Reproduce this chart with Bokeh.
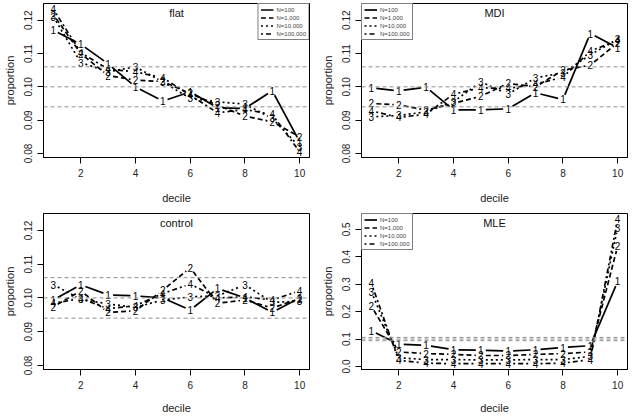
import math
from bokeh.plotting import figure
from bokeh.layouts import row, column
from bokeh.models import (Range1d, FixedTicker, PrintfTickFormatter, Span, Label,
                          Legend, LegendItem, ColumnDataSource)
from bokeh.core.properties import value
from bokeh.embed import file_html
from bokeh.resources import INLINE

# ---------------- data ----------------
decile = [1, 2, 3, 4, 5, 6, 7, 8, 9, 10]
series_labels = ["N=100", "N=1,000", "N=10,000", "N=100,000"]
point_chars = ["1", "2", "3", "4"]
ref_lines = [0.094, 0.100, 0.106]
x_ticks = [2, 4, 6, 8, 10]
y_ticks_small = [0.08, 0.09, 0.10, 0.11, 0.12]
y_ticks_mle = [0.0, 0.1, 0.2, 0.3, 0.4, 0.5]

flat_n100 = [0.1170, 0.1128, 0.1069, 0.1000, 0.0957, 0.0985, 0.0937, 0.0935, 0.0988, 0.0835]
flat_n1000 = [0.1217, 0.1100, 0.1034, 0.1020, 0.1016, 0.0980, 0.0945, 0.0912, 0.0895, 0.0850]
flat_n10000 = [0.1210, 0.1073, 0.1045, 0.1060, 0.1015, 0.0965, 0.0955, 0.0948, 0.0905, 0.0820]
flat_n100000 = [0.1233, 0.1103, 0.1053, 0.1045, 0.1027, 0.0975, 0.0922, 0.0932, 0.0917, 0.0805]

mdi_n100 = [0.0997, 0.0988, 0.0999, 0.0931, 0.0931, 0.0934, 0.0982, 0.0962, 0.1160, 0.1117]
mdi_n1000 = [0.0950, 0.0946, 0.0930, 0.0950, 0.0972, 0.1010, 0.1000, 0.1050, 0.1065, 0.1132]
mdi_n10000 = [0.0910, 0.0914, 0.0925, 0.0955, 0.1015, 0.0978, 0.1027, 0.1042, 0.1096, 0.1143]
mdi_n100000 = [0.0928, 0.0908, 0.0918, 0.0978, 0.0997, 0.0995, 0.1008, 0.1029, 0.1107, 0.1140]

control_n100 = [0.0994, 0.1039, 0.1009, 0.1006, 0.1000, 0.0964, 0.1028, 0.1000, 0.0957, 0.1000]
control_n1000 = [0.0974, 0.1021, 0.0957, 0.0962, 0.1023, 0.1089, 0.0984, 0.0994, 0.0970, 0.0998]
control_n10000 = [0.1039, 0.0996, 0.0982, 0.0972, 0.0994, 0.1003, 0.1006, 0.1039, 0.0987, 0.0990]
control_n100000 = [0.0984, 0.0998, 0.0968, 0.0977, 0.1013, 0.1041, 0.1000, 0.1003, 0.0994, 0.1021]

mle_n100 = [0.130, 0.081, 0.077, 0.061, 0.059, 0.056, 0.061, 0.069, 0.076, 0.310]
mle_n1000 = [0.220, 0.053, 0.047, 0.044, 0.040, 0.040, 0.044, 0.047, 0.053, 0.439]
mle_n10000 = [0.273, 0.032, 0.025, 0.025, 0.024, 0.024, 0.025, 0.025, 0.037, 0.506]
mle_n100000 = [0.304, 0.022, 0.012, 0.010, 0.010, 0.010, 0.010, 0.012, 0.025, 0.537]

FONT = "Liberation Sans"
DASHES = ["solid", "5 3", "2 3", "2 3 5 3"]
GAP_PX = 5.0
FIG_H = 208


def padded(vals, frac=0.04):
    lo, hi = min(vals), max(vals)
    pad = (hi - lo) * frac
    return lo - pad, hi + pad


small_all = (flat_n100 + flat_n1000 + flat_n10000 + flat_n100000 +
             mdi_n100 + mdi_n1000 + mdi_n10000 + mdi_n100000 +
             control_n100 + control_n1000 + control_n10000 + control_n100000)
mle_all = mle_n100 + mle_n1000 + mle_n10000 + mle_n100000


def gapped_segments(xs, ys, sx, sy):
    """R type='b': each segment is shortened near the plotted characters."""
    segx, segy = [], []
    for k in range(len(xs) - 1):
        dxp = (xs[k + 1] - xs[k]) * sx
        dyp = (ys[k + 1] - ys[k]) * sy
        L = math.hypot(dxp, dyp)
        if L <= 2 * GAP_PX:
            continue
        f = GAP_PX / L
        dx = xs[k + 1] - xs[k]
        dy = ys[k + 1] - ys[k]
        segx.append([xs[k] + f * dx, xs[k + 1] - f * dx])
        segy.append([ys[k] + f * dy, ys[k + 1] - f * dy])
    return segx, segy


def make_panel(title, series, yr, yticks, yfmt, legend_loc, width, left, right, top, bottom, ax_std):
    xr = padded(decile)
    p = figure(width=width, height=FIG_H, output_backend="svg", toolbar_location=None,
               x_range=Range1d(*xr), y_range=Range1d(*yr),
               min_border_left=left, min_border_right=right,
               min_border_top=top, min_border_bottom=bottom)
    p.xgrid.visible = False
    p.ygrid.visible = False
    p.outline_line_color = "black"
    p.outline_line_alpha = 1
    p.outline_line_width = 1
    p.background_fill_color = "white"
    p.border_fill_color = "white"

    frame_w = width - left - right
    frame_h = FIG_H - top - bottom
    sx = frame_w / (xr[1] - xr[0])
    sy = frame_h / (yr[1] - yr[0])

    for v in ref_lines:
        p.add_layout(Span(location=v, dimension="width", line_color="#8f8f8f",
                          line_dash="4 3", line_width=1))

    items = []
    for i, ys in enumerate(series):
        segx, segy = gapped_segments(decile, ys, sx, sy)
        r1 = p.multi_line(xs=segx, ys=segy, line_color="black", line_width=1.7,
                          line_dash=DASHES[i])
        src = ColumnDataSource(dict(x=decile, y=ys, t=[point_chars[i]] * len(decile)))
        r2 = p.text("x", "y", text="t", source=src, text_font=value(FONT),
                    text_font_size="10px", text_align="center",
                    text_baseline="middle", text_color="black")
        items.append(LegendItem(label=series_labels[i], renderers=[r1, r2]))

    if legend_loc is not None:
        leg = Legend(items=items, location=legend_loc, margin=0, padding=2, spacing=1,
                     label_text_font=FONT, label_text_font_size="6px",
                     label_height=7, glyph_height=7, glyph_width=13, label_standoff=3,
                     border_line_color="black", border_line_width=1,
                     background_fill_color="white", background_fill_alpha=1)
        p.add_layout(leg)

    p.add_layout(Label(x=(xr[0] + xr[1]) / 2, y=yr[1] - 0.06 * (yr[1] - yr[0]),
                       text=title, text_align="center", text_baseline="middle",
                       text_font=FONT, text_font_size="11px", text_font_style="normal",
                       text_color="#111111"))

    for ax in (p.xaxis[0], p.yaxis[0]):
        ax.axis_line_color = "black"
        ax.major_tick_line_color = "black"
        ax.minor_tick_line_color = None
        ax.major_tick_out = 6
        ax.major_tick_in = 0
        ax.major_label_text_font = FONT
        ax.major_label_text_font_size = "10px"
        ax.major_label_text_color = "#222222"
        ax.axis_label_text_font = FONT
        ax.axis_label_text_font_size = "11px"
        ax.axis_label_text_font_style = "normal"
        ax.axis_label_text_color = "#222222"
        ax.major_label_standoff = 5

    p.xaxis.ticker = FixedTicker(ticks=x_ticks, minor_ticks=[])
    p.yaxis.ticker = FixedTicker(ticks=yticks, minor_ticks=[])
    p.yaxis.formatter = PrintfTickFormatter(format=yfmt)
    p.yaxis.major_label_orientation = "vertical"
    p.xaxis.axis_label = "decile"
    p.yaxis.axis_label = "proportion"
    p.xaxis.axis_label_standoff = ax_std
    p.yaxis.axis_label_standoff = 6
    return p


yr_small = padded(small_all)
yr_mle = padded(mle_all)

p1 = make_panel("flat", [flat_n100, flat_n1000, flat_n10000, flat_n100000],
                yr_small, y_ticks_small, "%.2f", "top_right", 316, 43, 7, 3, 51, 12)
p2 = make_panel("MDI", [mdi_n100, mdi_n1000, mdi_n10000, mdi_n100000],
                yr_small, y_ticks_small, "%.2f", "top_left", 317, 45, 6, 3, 51, 12)
p3 = make_panel("control", [control_n100, control_n1000, control_n10000, control_n100000],
                yr_small, y_ticks_small, "%.2f", None, 316, 43, 7, 5, 46, 10)
p4 = make_panel("MLE", [mle_n100, mle_n1000, mle_n10000, mle_n100000],
                yr_mle, y_ticks_mle, "%.1f", "top_left", 317, 45, 6, 5, 46, 10)

layout = column(row(p1, p2), row(p3, p4))
open("out.html", "w").write(file_html(layout, INLINE))
